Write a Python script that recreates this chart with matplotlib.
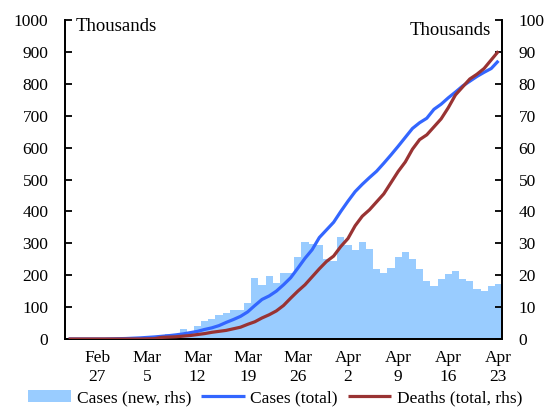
import matplotlib
matplotlib.use("Agg")
import matplotlib.pyplot as plt
import matplotlib.dates as mdates
import pandas as pd
import numpy as np

# ---- data (thousands) ----
dates = pd.date_range("2020-02-23", "2020-04-23", freq="D")

new_cases = [0, 0, 0, 0, 0, 0, 0, 0, 0.2, 0.4, 0.6, 0.8, 1.0, 1.3, 1.5,
             1.5, 3.0, 2.3, 4.2, 5.7, 6.3, 7.5, 8.0, 9.1, 9.1, 11.2, 19.1,
             17.0, 19.7, 17.6, 20.8, 20.8, 25.6, 30.4, 29.9, 29.6, 25.1,
             24.5, 32.0, 29.4, 27.8, 30.4, 28.2, 21.9, 20.8, 22.4, 25.6,
             27.3, 25.1, 21.9, 18.2, 16.6, 18.8, 20.3, 21.4, 18.8, 18.2,
             15.6, 14.9, 16.6, 17.1]

cases_total = [0, 0, 0, 0, 0, 0, 0.5, 1, 1.5, 2.5, 3.5, 5, 6.5, 8.5, 10.5,
               13, 16, 20, 24, 30, 35, 42, 52, 61, 71, 85, 105, 124, 135,
               150, 170, 192, 222, 253, 280, 318, 342, 366, 400, 432, 462,
               485, 506, 526, 551, 577, 604, 632, 660, 678, 692, 720, 736,
               756, 774, 793, 808, 823, 836, 848, 872]

deaths_total = [0, 0, 0, 0, 0, 0, 0, 0, 0, 0, 0, 0.05, 0.1, 0.5, 0.6, 0.7,
                0.9, 1.1, 1.4, 1.7, 2.1, 2.4, 2.7, 3.2, 3.7, 4.6, 5.4, 6.6,
                7.6, 8.8, 10.5, 12.8, 15, 17, 19.5, 22, 24.3, 26, 29, 31.5,
                35.5, 38.5, 40.5, 43, 45.5, 49, 52.5, 55.5, 59.5, 62.5, 64,
                66.5, 69, 72.5, 76.5, 79, 81.5, 83, 84.8, 87.5, 90.2]

tick_dates = ["2020-02-27", "2020-03-05", "2020-03-12", "2020-03-19",
              "2020-03-26", "2020-04-02", "2020-04-09", "2020-04-16",
              "2020-04-23"]
tick_labels = ["Feb\n27", "Mar\n5", "Mar\n12", "Mar\n19", "Mar\n26",
               "Apr\n2", "Apr\n9", "Apr\n16", "Apr\n23"]

left_ticks = [0, 100, 200, 300, 400, 500, 600, 700, 800, 900, 1000]
right_ticks = [0, 10, 20, 30, 40, 50, 60, 70, 80, 90, 100]

# ---- style ----
plt.rcParams["font.family"] = ["Liberation Serif", "DejaVu Serif"]
FS = 12.5
BAR_C = "#99CCFF"
BLUE = "#3366FF"
RED = "#993333"

fig = plt.figure(figsize=(5.5, 4.09), dpi=100)
x = mdates.date2num(dates)
xt = mdates.date2num(pd.to_datetime(tick_dates))

ax_r = fig.add_axes([65/550, 1-339/409, (502-65)/550, (339-20)/409])
ax_l = ax_r.twinx()
ax_d = ax_r.twinx()

ax_r.bar(x, new_cases, width=1.0, color=BAR_C, edgecolor="none",
         label="Cases (new, rhs)")
ax_r.set_ylim(0, 100)

l1, = ax_l.plot(x, cases_total, color=BLUE, lw=2.3, label="Cases (total)",
                solid_capstyle="butt")
ax_l.set_ylim(0, 1000)

l2, = ax_d.plot(x, deaths_total, color=RED, lw=2.3,
                label="Deaths (total, rhs)", solid_capstyle="butt")
ax_d.set_ylim(0, 100)
ax_d.axis("off")

ax_r.yaxis.tick_right()
ax_r.yaxis.set_label_position("right")
ax_l.yaxis.tick_left()
ax_l.yaxis.set_label_position("left")
ax_r.set_yticks(right_ticks)
ax_l.set_yticks(left_ticks)

for a in (ax_r, ax_l, ax_d):
    a.set_xlim(x[0]-0.5, x[-1]+0.5)

for a in (ax_r, ax_l):
    a.spines["top"].set_visible(False)
    for s in ("left", "right", "bottom"):
        a.spines[s].set_color("black")
        a.spines[s].set_linewidth(1.3)

ax_r.tick_params(axis="y", direction="in", length=5, width=1.3,
                 labelsize=FS, pad=12, right=True, left=False,
                 labelright=True, labelleft=False)
ax_l.tick_params(axis="y", direction="in", length=5, width=1.3,
                 labelsize=FS, pad=12, left=True, right=False,
                 labelleft=True, labelright=False)
ax_r.set_xticks(xt)
ax_r.set_xticklabels(tick_labels, fontsize=FS, linespacing=1.25)
ax_r.tick_params(axis="x", length=0, pad=8)

ax_l.text(0.025, 1.005, "Thousands", transform=ax_l.transAxes,
          fontsize=13.5, ha="left", va="top")
ax_l.text(0.975, 0.995, "Thousands", transform=ax_l.transAxes,
          fontsize=13.5, ha="right", va="top")

handles = [ax_r.patches[0], l1, l2]
labels = ["Cases (new, rhs)", "Cases (total)", "Deaths (total, rhs)"]
fig.legend(handles, labels, loc="center", bbox_to_anchor=(0.5, 1-398/409),
           ncol=3, frameon=False, fontsize=FS, handlelength=2.5,
           handletextpad=0.3, columnspacing=0.6, borderaxespad=0,
           borderpad=0)

fig.savefig("out.png", dpi=100)
